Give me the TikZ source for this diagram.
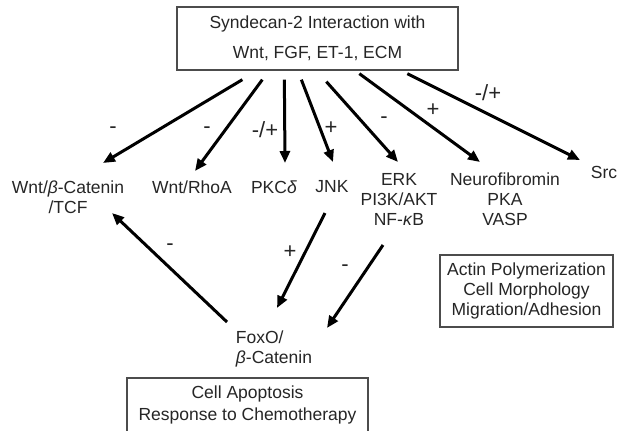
\documentclass[tikz,border=0pt]{standalone}
\usepackage{fontspec}
\setmainfont{Liberation Sans}
\usetikzlibrary{arrows.meta}
\begin{document}
\begin{tikzpicture}[x=1bp,y=-1bp,
  every node/.style={font=\fontsize{17.5bp}{20bp}\selectfont, text=black!85, inner sep=0pt},
  arr/.style={line width=3bp, -{Triangle[length=12bp,width=10bp]}},
  boxx/.style={draw=black!70, line width=1.3bp, align=center},
  lbl/.style={font=\fontsize{22bp}{24bp}\selectfont}]
\useasboundingbox (0,0) rectangle (619,430);
\fill[white] (0,0) rectangle (619,430);
% boxes
\node[boxx, minimum width=281bp, minimum height=63bp,
      font=\fontsize{17.5bp}{30bp}\selectfont] (top) at (317.5,38.5)
  {Syndecan-2 Interaction with\\Wnt, FGF, ET-1, ECM};
\node[boxx, minimum width=241bp, minimum height=54bp,
      font=\fontsize{17.5bp}{22bp}\selectfont] (apop) at (247.5,405)
  {Cell Apoptosis\\Response to Chemotherapy};
\node[boxx, minimum width=173bp, minimum height=72bp] (actin) at (526.5,291)
  {Actin Polymerization\\Cell Morphology\\Migration/Adhesion};
% targets
\node[align=center] (wbc) at (68,197) {Wnt/\textit{β}-Catenin\\/TCF};
\node (rhoa) at (192,187) {Wnt/RhoA};
\node (pkc) at (274,187) {PKC\textit{δ}};
\node (jnk) at (332,187) {JNK};
\node[align=center] (erk) at (399,199) {ERK\\PI3K/AKT\\NF-\textit{κ}B};
\node[align=center] (nf1) at (505,199) {Neurofibromin\\PKA\\VASP};
\node (src) at (604,172) {Src};
\node[align=left] (foxo) at (274,349) {FoxO/\\\textit{β}-Catenin};
% arrows from top
\draw[arr] ([shift={(66,9)}]top.south west) -- ([shift={(35,-34)}]wbc.center);
\draw[arr] ([shift={(86,9)}]top.south west) -- ([shift={(3,-16)}]rhoa.center);
\draw[arr] ([shift={(108,9)}]top.south west) -- ([shift={(11,-24)}]pkc.center);
\draw[arr] ([shift={(125,9)}]top.south west) -- ([shift={(1,-25)}]jnk.center);
\draw[arr] ([shift={(150,11)}]top.south west) -- ([shift={(-1,-37)}]erk.center);
\draw[arr] ([shift={(183,3)}]top.south west) -- ([shift={(-25,-37)}]nf1.center);
\draw[arr] ([shift={(231,3)}]top.south west) -- ([shift={(-24,-12)}]src.center);
% lower arrows
\draw[arr] ([shift={(-7,26)}]jnk.center) -- ([shift={(3,-41)}]foxo.center);
\draw[arr] ([shift={(-16,46)}]erk.center) -- ([shift={(53,-21)}]foxo.center);
\draw[arr] ([shift={(-47,-27)}]foxo.center) -- ([shift={(44,16)}]wbc.center);
% signs
\node[lbl] (l1) at (113,130) {-};
\node[lbl] (l2) at (207,130) {-};
\node[lbl] (l3) at (265,130) {-/+};
\node[lbl] (l4) at (331,128) {+};
\node[lbl] (l5) at (384,120) {-};
\node[lbl] (l6) at (433,110) {+};
\node[lbl] (l7) at (488,93) {-/+};
\node[lbl] (l8) at (290,252) {+};
\node[lbl] (l9) at (345,268) {-};
\node[lbl] (l10) at (170,247) {-};
\end{tikzpicture}
\end{document}
